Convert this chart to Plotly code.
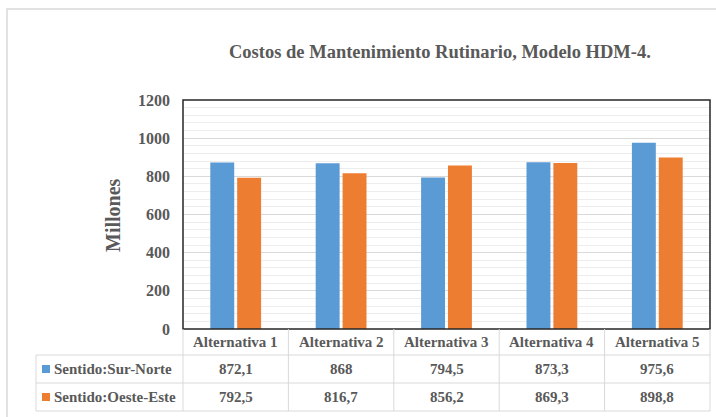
import plotly.graph_objects as go

categories = ["Alternativa 1", "Alternativa 2", "Alternativa 3", "Alternativa 4", "Alternativa 5"]
series_names = ["Sentido:Sur-Norte", "Sentido:Oeste-Este"]
sur_norte = [872.1, 868, 794.5, 873.3, 975.6]
oeste_este = [792.5, 816.7, 856.2, 869.3, 898.8]
y_ticks = [0, 200, 400, 600, 800, 1000, 1200]

colors = ["#5B9BD5", "#ED7D31"]
TXT = "#595959"
FONT = "Liberation Serif"

W, H = 716, 417
L, R, T, B = 183, 710, 100, 329  # plot area in pixels


def xp(px):
    return (px - L) / (R - L)


def yp(py):
    return (B - py) / (B - T)


def fmt(v):
    return f"{v:g}".replace(".", ",")


fig = go.Figure()
for name, vals, c in zip(series_names, [sur_norte, oeste_este], colors):
    fig.add_trace(go.Bar(x=categories, y=vals, name=name, marker_color=c,
                         marker_line_width=0, showlegend=False))

shapes = []
# outer chart border (light gray)
shapes.append(dict(type="rect", xref="paper", yref="paper",
                   x0=xp(7), x1=xp(730), y0=yp(430), y1=yp(9),
                   line=dict(color="#D9D9D9", width=1.5), layer="below"))
# plot frame
shapes.append(dict(type="rect", xref="paper", yref="paper",
                   x0=0, x1=1, y0=0, y1=1,
                   line=dict(color="#262626", width=1.5)))
# table lines
grid = "#D9D9D9"
row_lines = [355, 383, 411]
for py in row_lines:
    shapes.append(dict(type="line", xref="paper", yref="paper",
                       x0=xp(36), x1=1, y0=yp(py), y1=yp(py),
                       line=dict(color=grid, width=1)))
ncat = len(categories)
for i in range(ncat + 1):
    x = i / ncat
    shapes.append(dict(type="line", xref="paper", yref="paper",
                       x0=x, x1=x, y0=yp(329), y1=yp(411),
                       line=dict(color=grid, width=1)))
shapes.append(dict(type="line", xref="paper", yref="paper",
                   x0=xp(36), x1=xp(36), y0=yp(355), y1=yp(411),
                   line=dict(color=grid, width=1)))
# legend keys
row_centers = [369, 397]
for c, py in zip(colors, row_centers):
    shapes.append(dict(type="rect", xref="paper", yref="paper",
                       x0=xp(42), x1=xp(50), y0=yp(py + 4), y1=yp(py - 4),
                       fillcolor=c, line=dict(width=0)))

annotations = []
for cat in categories:
    annotations.append(dict(x=cat, xref="x", y=yp(342), yref="paper",
                            text=f"<b>{cat}</b>", showarrow=False,
                            xanchor="center", yanchor="middle",
                            font=dict(family=FONT, size=15, color=TXT)))
for name, vals, py in zip(series_names, [sur_norte, oeste_este], row_centers):
    annotations.append(dict(x=xp(52), xref="paper", y=yp(py), yref="paper",
                            text=f"<b>{name}</b>", showarrow=False,
                            xanchor="left", yanchor="middle",
                            font=dict(family=FONT, size=15, color=TXT)))
    for cat, v in zip(categories, vals):
        annotations.append(dict(x=cat, xref="x", y=yp(py), yref="paper",
                                text=f"<b>{fmt(v)}</b>", showarrow=False,
                                xanchor="center", yanchor="middle",
                                font=dict(family=FONT, size=15, color=TXT)))
# y-axis title
annotations.append(dict(x=xp(113), xref="paper", y=yp(215), yref="paper",
                        text="<b>Millones</b>", showarrow=False, textangle=-90,
                        xanchor="center", yanchor="middle",
                        font=dict(family=FONT, size=20, color=TXT)))
# chart title
annotations.append(dict(x=xp(440), xref="paper", y=yp(52), yref="paper",
                        text="<b>Costos de Mantenimiento Rutinario, Modelo HDM-4.</b>",
                        showarrow=False, xanchor="center", yanchor="middle",
                        font=dict(family=FONT, size=18.5, color=TXT)))

fig.update_layout(
    width=W, height=H,
    margin=dict(l=L, r=W - R, t=T, b=H - B, pad=0),
    paper_bgcolor="white", plot_bgcolor="white",
    barmode="group", bargap=0.49, bargroupgap=0.11,
    shapes=shapes, annotations=annotations,
    xaxis=dict(showticklabels=False, showgrid=False, zeroline=False,
               showline=False, fixedrange=True),
    yaxis=dict(range=[0, 1200], tickvals=y_ticks, ticktext=[str(t) for t in y_ticks],
               showgrid=True, gridcolor="#D9D9D9", gridwidth=1,
               minor=dict(dtick=40, showgrid=True, gridcolor="#EDEDED", gridwidth=1),
               zeroline=False, showline=False,
               ticks="", ticklabelstandoff=12,
               tickfont=dict(family=FONT, size=16, color=TXT, weight="bold")),
    font=dict(family=FONT, color=TXT),
)

fig.write_html("out.html",
               config={"displayModeBar": False},
               post_script="document.body.style.margin='0';document.body.style.padding='0';")
